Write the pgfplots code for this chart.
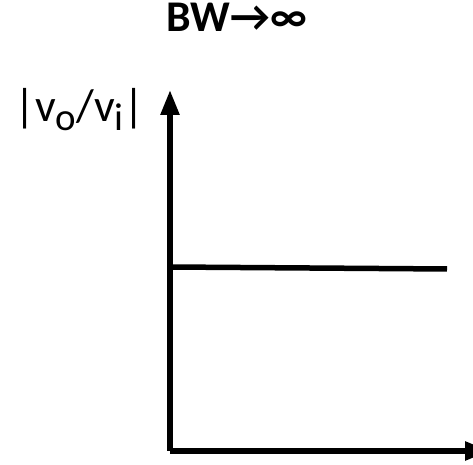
\documentclass[border=0pt]{standalone}
\usepackage{fontspec}
\setmainfont{Carlito}
\usepackage{pgfplots}
\pgfplotsset{compat=1.18}
\usetikzlibrary{arrows.meta}

\begin{document}
\begin{tikzpicture}[x=1bp,y=1bp]
\path[use as bounding box] (-170,-14) rectangle (303,451);
\begin{axis}[
    at={(0,0)}, anchor=south west,
    scale only axis,
    width=320bp, height=361bp,
    xmin=0, xmax=320,
    ymin=0, ymax=361,
    axis lines=left,
    axis line style={line width=5.5bp, -{Triangle[width=18bp,length=25bp]}},
    xtick=\empty, ytick=\empty,
    clip=false,
]
\addplot[black, line width=5.5bp] coordinates {(0,184) (277,182)};
\end{axis}
\node[anchor=base, inner sep=0pt] at (67,419) {\fontsize{44}{46}\selectfont\bfseries BW→∞};
\node[anchor=base west, inner sep=0pt] at (-156,329)
  {\fontsize{46}{48}\selectfont |v\raisebox{-9bp}{\fontsize{39}{41}\selectfont o}/v\raisebox{-9bp}{\fontsize{39}{41}\selectfont i}|};
\end{tikzpicture}
\end{document}
